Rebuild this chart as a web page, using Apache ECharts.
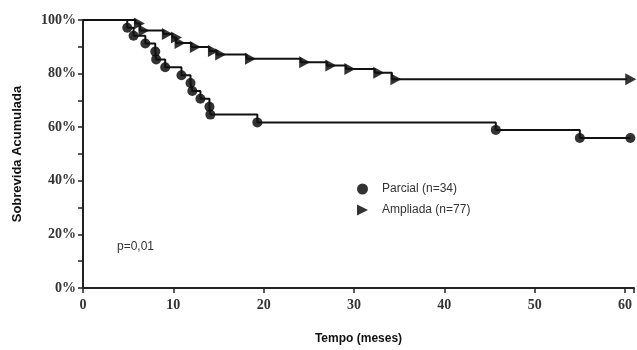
<!DOCTYPE html>
<html>
<head>
<meta charset="utf-8">
<script src="https://cdn.jsdelivr.net/npm/echarts@6/dist/echarts.min.js"></script>
<style>html,body{margin:0;padding:0;background:#fff}#c{width:637px;height:350px}</style>
</head>
<body>
<div id="c"></div>
<script>
// Parcial (n=34) step curve
const parcialTimes = [0, 4.9, 5.6, 6.9, 8.0, 8.1, 9.1, 10.9, 11.9, 12.1, 13.0, 14.0, 14.1, 19.3, 45.7, 55.0, 60.6];
const parcialSurv  = [100, 97.1, 94.1, 91.2, 88.2, 85.3, 82.4, 79.4, 76.5, 73.5, 70.6, 67.6, 64.7, 61.8, 59.0, 56.0, 56.0];
// Ampliada (n=77) step curve
const ampliadaTimes = [0, 5.8, 6.3, 8.9, 9.9, 10.3, 12.0, 14.0, 14.8, 18.1, 24.1, 27.0, 29.1, 32.3, 34.2, 60.2];
const ampliadaSurv  = [100, 98.7, 96.1, 94.8, 93.5, 91.4, 89.9, 88.4, 87.1, 85.5, 84.2, 83.0, 81.7, 80.3, 77.9, 77.9];
const xTicks = [0, 10, 20, 30, 40, 50, 60];
const yTicks = [0, 20, 40, 60, 80, 100];
const seriesNames = ['Parcial (n=34)', 'Ampliada (n=77)'];

const pairs = (t, v) => t.map((x, i) => [x, v[i]]);
const parcialPts = pairs(parcialTimes, parcialSurv);
const ampliadaPts = pairs(ampliadaTimes, ampliadaSurv);
const tri = 'path://M0,0 L10,5 L0,10 Z';

const chart = echarts.init(document.getElementById('c'), null, {renderer: 'canvas'});
chart.setOption({
  animation: false,
  backgroundColor: '#fff',
  grid: {left: 83, right: 0, top: 20, bottom: 58, containLabel: false},
  xAxis: {
    type: 'value', min: 0, max: 61, interval: 10,
    name: 'Tempo (meses)', nameLocation: 'middle', nameGap: 45,
    nameTextStyle: {fontFamily: 'Liberation Sans', fontWeight: 'bold', fontSize: 12, color: '#111'},
    axisLine: {show: true, lineStyle: {color: '#222', width: 2}},
    axisTick: {show: true, length: 5, lineStyle: {color: '#222', width: 1.5}},
    axisLabel: {fontFamily: 'Liberation Serif', fontWeight: 'bold', fontSize: 14, color: '#333', margin: 10,
      formatter: v => xTicks.includes(v) ? String(v) : ''},
    splitLine: {show: false}
  },
  yAxis: {
    type: 'value', min: 0, max: 100, interval: 20,
    name: 'Sobrevida Acumulada', nameLocation: 'middle', nameGap: 59, nameRotate: 90,
    nameTextStyle: {fontFamily: 'Liberation Sans', fontWeight: 'bold', fontSize: 13, color: '#111'},
    axisLine: {show: true, lineStyle: {color: '#222', width: 2}},
    axisTick: {show: true, length: 5, lineStyle: {color: '#222', width: 1.5}},
    minorTick: {show: true, splitNumber: 2, length: 5, lineStyle: {color: '#222', width: 1.5}},
    axisLabel: {fontFamily: 'Liberation Serif', fontWeight: 'bold', fontSize: 14, color: '#333', margin: 7,
      formatter: v => yTicks.includes(v) ? v + '%' : ''},
    splitLine: {show: false}
  },
  legend: {
    orient: 'vertical', left: 352, top: 178, itemGap: 9, itemWidth: 11, itemHeight: 11,
    data: [{name: seriesNames[0], icon: 'circle'}, {name: seriesNames[1], icon: tri}],
    textStyle: {fontFamily: 'Liberation Sans', fontSize: 12, color: '#333', padding: [0, 0, 0, 9]}
  },
  graphic: [{type: 'text', left: 117, top: 241,
    style: {text: 'p=0,01', font: '12px "Liberation Sans"', fill: '#333'}}],
  series: [
    {type: 'line', step: 'end', data: parcialPts, symbol: 'none', silent: true,
      lineStyle: {color: '#111', width: 2}, clip: false},
    {type: 'line', step: 'end', data: ampliadaPts, symbol: 'none', silent: true,
      lineStyle: {color: '#111', width: 2}, clip: false},
    {name: seriesNames[0], type: 'scatter', data: parcialPts.slice(1), symbol: 'circle', symbolSize: 10,
      itemStyle: {color: '#000'}, clip: false},
    {name: seriesNames[1], type: 'scatter', data: ampliadaPts.slice(1), symbol: tri, symbolSize: [11, 12],
      symbolOffset: [4, 0], itemStyle: {color: '#000'}, clip: false}
  ]
});
</script>
</body>
</html>
